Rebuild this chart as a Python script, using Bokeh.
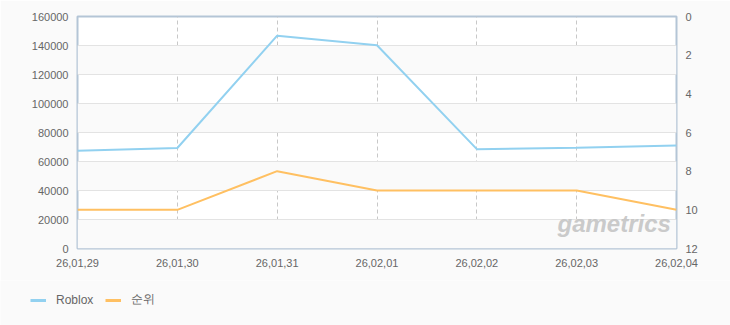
from bokeh.plotting import figure
from bokeh.layouts import column
from bokeh.models import (Range1d, LinearAxis, FixedTicker, Legend, LegendItem,
                          BoxAnnotation, Label, CustomJSTickFormatter, BasicTickFormatter)
from bokeh.embed import file_html
from bokeh.resources import INLINE

dates = ["26,01,29", "26,01,30", "26,01,31", "26,02,01", "26,02,02", "26,02,03", "26,02,04"]
roblox = [67400, 69300, 146800, 140200, 68500, 69500, 71000]
rank = [10, 10, 8, 9, 9, 9, 10]
left_ticks = [0, 20000, 40000, 60000, 80000, 100000, 120000, 140000, 160000]
right_ticks = [0, 2, 4, 6, 8, 10, 12]
series_names = ["Roblox", "순위"]
series_colors = ["#92d1f0", "#ffc062"]

FONT = "Liberation Sans"
TXT = "#666666"
BG = "#fafafa"
NAN = float("nan")

xs = list(range(len(dates)))

p = figure(width=730, height=280, output_backend="svg", toolbar_location=None,
           x_range=Range1d(0, len(dates) - 1), y_range=Range1d(0, 160000),
           min_border_left=77, min_border_right=54, min_border_top=16, min_border_bottom=32)
p.background_fill_color = "#ffffff"
p.border_fill_color = BG
p.outline_line_color = "#b4c5d6"
p.outline_line_width = 2
p.frame_align = False

for i in range(len(left_ticks) - 1):
    if i % 2 == 0:
        p.add_layout(BoxAnnotation(bottom=left_ticks[i], top=left_ticks[i + 1],
                                   fill_color="#fafafa", fill_alpha=1, line_color=None, level="underlay"))

p.extra_y_ranges = {"rank": Range1d(12, 0)}

p.xaxis.ticker = FixedTicker(ticks=xs)
p.xaxis.formatter = CustomJSTickFormatter(args=dict(labels=dates), code="return labels[Math.round(tick)] || '';")
p.yaxis.ticker = FixedTicker(ticks=left_ticks)
p.yaxis.formatter = BasicTickFormatter(use_scientific=False)

ra = LinearAxis(y_range_name="rank", ticker=FixedTicker(ticks=right_ticks))
p.add_layout(ra, "right")

for ax in [p.xaxis[0], p.yaxis[0], ra]:
    ax.axis_line_color = None
    ax.major_tick_line_color = None
    ax.minor_tick_line_color = None
    ax.major_label_text_font = FONT
    ax.major_label_text_font_size = "11px"
    ax.major_label_text_color = TXT
    ax.major_label_standoff = 3
p.xaxis.major_label_standoff = 4

p.ygrid.ticker = FixedTicker(ticks=left_ticks)
p.ygrid.grid_line_color = "#cccccc"
p.xgrid.ticker = FixedTicker(ticks=xs)
p.xgrid.grid_line_color = "#c8c8c8"
p.xgrid.grid_line_dash = "4 3"

p.line(xs, roblox, line_color=series_colors[0], line_width=2)
p.line(xs, rank, line_color=series_colors[1], line_width=2, y_range_name="rank")

p.add_layout(Label(x=480, y=12, x_units="screen", y_units="screen", text="gametrics",
                   text_font=FONT, text_font_style="bold italic", text_font_size="24px",
                   text_color="#c4c4c4", text_alpha=0.9))

# legend strip
lg = figure(width=730, height=45, output_backend="svg", toolbar_location=None,
            x_range=Range1d(0, 1), y_range=Range1d(0, 1),
            min_border_left=0, min_border_right=0, min_border_top=0, min_border_bottom=0,
            x_axis_location=None, y_axis_location=None)
lg.frame_align = False
lg.border_fill_color = BG
lg.background_fill_color = BG
lg.outline_line_color = None
lg.grid.visible = False
items = []
for name, col in zip(series_names, series_colors):
    r = lg.line([NAN], [NAN], line_color=col, line_width=3)
    items.append(LegendItem(label=name, renderers=[r]))
legend = Legend(items=items, orientation="horizontal", location=(30, 17))
legend.label_text_font = FONT
legend.label_text_font_size = "12px"
legend.label_text_color = TXT
legend.glyph_width = 16
legend.glyph_height = 12
legend.label_standoff = 10
legend.spacing = 12
legend.padding = 0
legend.margin = 0
legend.border_line_color = None
legend.background_fill_alpha = 0
lg.add_layout(legend, "center")

layout = column(p, lg, spacing=0)
open("out.html", "w").write(file_html(layout, INLINE))
